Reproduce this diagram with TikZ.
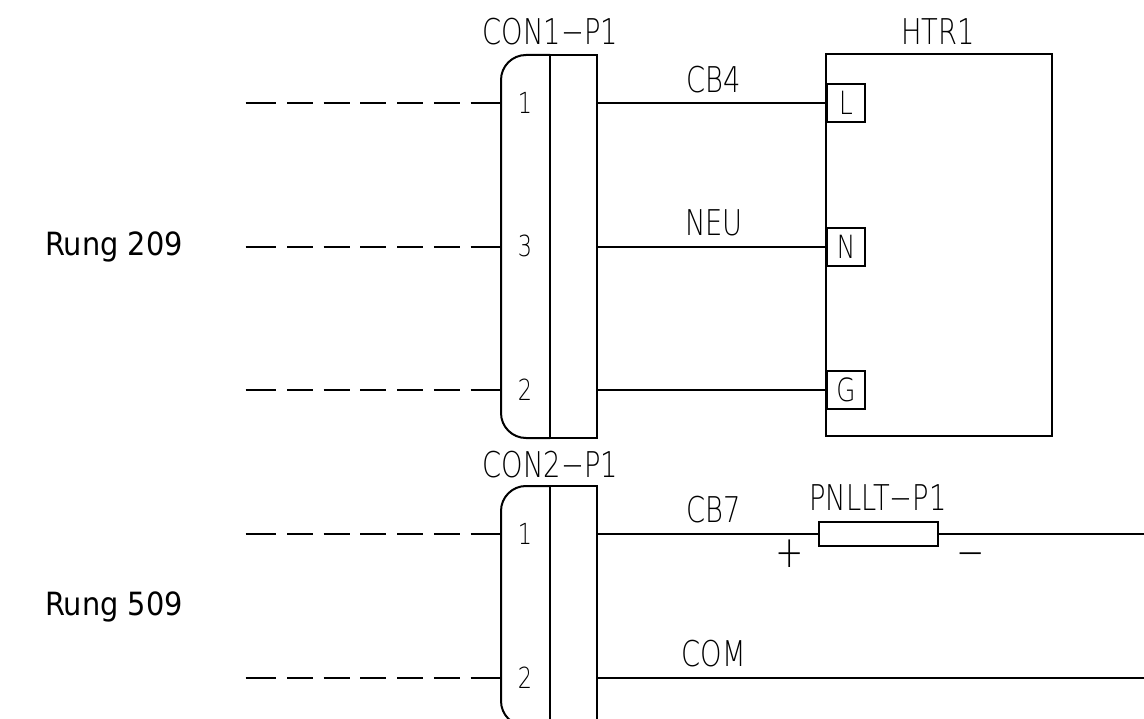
\documentclass[tikz,border=0pt]{standalone}
\usepackage{fontspec}
\setmainfont{DejaVu Sans ExtraLight}[FakeStretch=0.77]
\newfontfamily\rungfont{DejaVu Sans}[FakeStretch=0.9]
\tikzset{
  wire/.style={line width=2pt},
  stub/.style={line width=2pt, dash pattern=on 30.5pt off 11pt on 26pt off 10.7pt on 26pt off 10.7pt on 26pt off 10.7pt on 26pt off 10.7pt on 26pt off 10.7pt on 31pt off 10pt},
  cadtext/.style={inner sep=0pt, anchor=base, font=\fontsize{35.5}{36}\selectfont},
  signtext/.style={inner sep=0pt, anchor=base, font=\fontsize{44}{44}\selectfont},
  pintext/.style={inner sep=0pt, anchor=base, font=\fontsize{29}{30}\selectfont},
  rungtext/.style={inner sep=0pt, anchor=base, font=\rungfont\fontsize{32}{32}\selectfont},
  termbox/.style={draw, line width=2pt, anchor=west, minimum width=38pt, minimum height=38pt, inner sep=0pt, font=\fontsize{32}{32}\selectfont},
}
\begin{document}
\begin{tikzpicture}[x=1pt,y=-1pt]
\useasboundingbox (0,0) rectangle (1144,719);
\clip (0,0) rectangle (1144,719);

% first connector
\draw [wire, rounded corners=25pt] (550,55) -- (501,55) -- (501,438) -- (550,438);
\draw [wire] (550,55) -- (597,55) -- (597,438) -- (550,438) -- cycle;       % divider and right part
\node [cadtext] (con1) at (550.5,45) {CON1−P1};
\node [pintext] (pin1a) at (525,114) {1};
\node [pintext] (pin3a) at (525,257) {3};
\node [pintext] (pin2a) at (525,400.5) {2};

% heater box
\draw [wire] (826,54) rectangle (1052,436);
\node [cadtext] (htr) at (938,45) {HTR1};
\node [termbox] (termL) at (826,103) {L};
\node [termbox] (termN) at (826,247) {N};
\node [termbox] (termG) at (826,390) {G};

% wires and labels
\coordinate (outL) at (597,103);
\coordinate (outN) at (597,247);
\coordinate (outG) at (597,390);
\draw [wire] (outL) -- (termL.west);
\draw [wire] (outN) -- (termN.west);
\draw [wire] (outG) -- (termG.west);
\node [cadtext] (cb4) at (714,92.5) {CB4};
\node [cadtext] (neu) at (714,236) {NEU};

% dashed stubs, rung 209
\coordinate (stubA) at (245.5,103);
\coordinate (stubB) at (245.5,247);
\coordinate (stubC) at (245.5,390);
\coordinate (inA) at (501,103);
\coordinate (inB) at (501,247);
\coordinate (inC) at (501,390);
\draw [stub] (stubA) -- (inA);
\draw [stub] (stubB) -- (inB);
\draw [stub] (stubC) -- (inC);
\node [rungtext] (rung209) at (114,256) {Rung 209};

% second connector
\draw [wire, rounded corners=25pt] (550,486) -- (501,486) -- (501,726) -- (550,726);
\draw [wire] (550,486) -- (597,486) -- (597,726) -- (550,726) -- cycle;
\node [cadtext] (con2) at (550.5,477.5) {CON2−P1};
\node [pintext] (pin1b) at (525,544) {1};
\node [pintext] (pin2b) at (525,688) {2};

% lamp
\node [draw, line width=2pt, minimum width=119pt, minimum height=24pt, inner sep=0pt] (lamp) at (878.5,534) {};
\node [cadtext] (lampname) at (878,510.5) {PNLLT−P1};
\node [signtext] (plus) at (790,567.5) {+};
\node [signtext] (minus) at (971,567.5) {−};
\coordinate (outP) at (597,534);
\coordinate (outQ) at (597,678);
\coordinate (endP) at (1144,534);
\coordinate (endQ) at (1144,678);
\draw [wire] (outP) -- (lamp.west);
\draw [wire] (lamp.east) -- (endP);
\draw [wire] (outQ) -- (endQ);
\node [cadtext] (cb7) at (714,522.5) {CB7};
\node [cadtext] (com) at (714,666) {COM};

% dashed stubs, rung 509
\coordinate (stubD) at (245.5,534);
\coordinate (stubE) at (245.5,678);
\coordinate (inD) at (501,534);
\coordinate (inE) at (501,678);
\draw [stub] (stubD) -- (inD);
\draw [stub] (stubE) -- (inE);
\node [rungtext] (rung509) at (114,615) {Rung 509};
\end{tikzpicture}
\end{document}
